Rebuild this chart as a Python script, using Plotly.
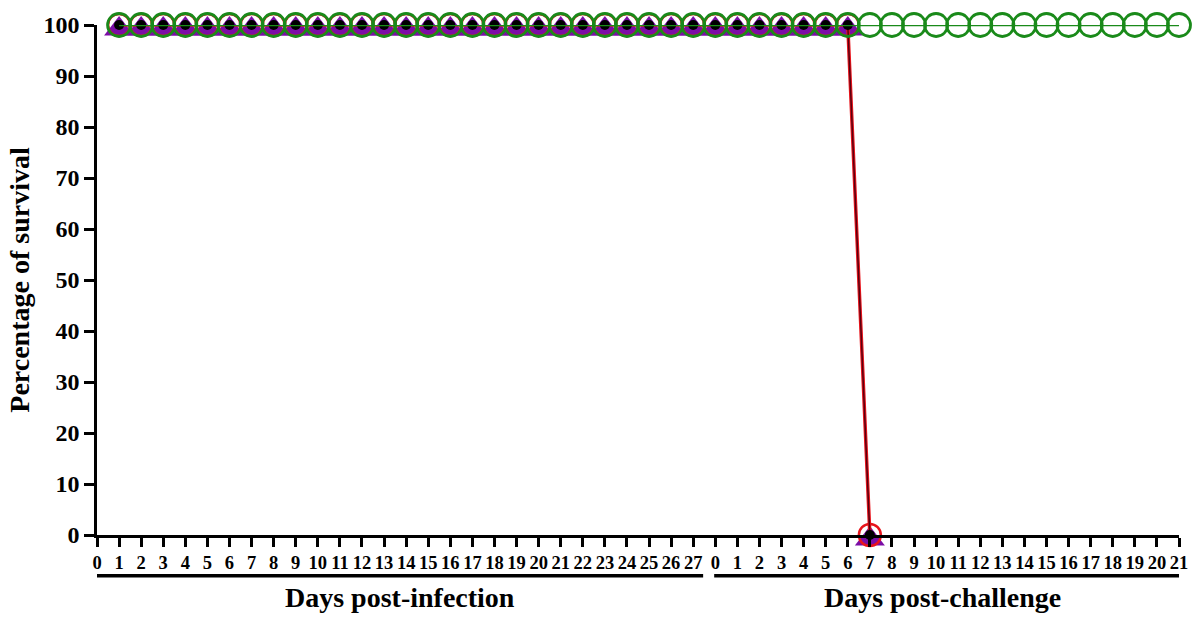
import plotly.graph_objects as go

# Tick labels: days post-infection (0-27) followed by days post-challenge (0-21)
infection_days = [0, 1, 2, 3, 4, 5, 6, 7, 8, 9, 10, 11, 12, 13, 14, 15, 16, 17, 18, 19, 20,
                  21, 22, 23, 24, 25, 26, 27]
challenge_days = [0, 1, 2, 3, 4, 5, 6, 7, 8, 9, 10, 11, 12, 13, 14, 15, 16, 17, 18, 19, 20, 21]
tick_labels = [str(d) for d in infection_days] + [str(d) for d in challenge_days]
tick_pos = list(range(len(tick_labels)))

# Survival data (x = position on the combined axis)
green_x = [1, 2, 3, 4, 5, 6, 7, 8, 9, 10, 11, 12, 13, 14, 15, 16, 17, 18, 19, 20, 21, 22, 23, 24,
           25, 26, 27, 28, 29, 30, 31, 32, 33, 34, 35, 36, 37, 38, 39, 40, 41, 42, 43, 44, 45,
           46, 47, 48, 49]
green_y = [100, 100, 100, 100, 100, 100, 100, 100, 100, 100, 100, 100, 100, 100, 100, 100, 100,
           100, 100, 100, 100, 100, 100, 100, 100, 100, 100, 100, 100, 100, 100, 100, 100, 100,
           100, 100, 100, 100, 100, 100, 100, 100, 100, 100, 100, 100, 100, 100, 100]

dead_x = [1, 2, 3, 4, 5, 6, 7, 8, 9, 10, 11, 12, 13, 14, 15, 16, 17, 18, 19, 20, 21, 22, 23, 24,
          25, 26, 27, 28, 29, 30, 31, 32, 33, 34, 35]
purple_y = [100, 100, 100, 100, 100, 100, 100, 100, 100, 100, 100, 100, 100, 100, 100, 100, 100,
            100, 100, 100, 100, 100, 100, 100, 100, 100, 100, 100, 100, 100, 100, 100, 100, 100, 0]
black_y = [100, 100, 100, 100, 100, 100, 100, 100, 100, 100, 100, 100, 100, 100, 100, 100, 100,
           100, 100, 100, 100, 100, 100, 100, 100, 100, 100, 100, 100, 100, 100, 100, 100, 100, 0]
red_y = [100, 100, 100, 100, 100, 100, 100, 100, 100, 100, 100, 100, 100, 100, 100, 100, 100,
         100, 100, 100, 100, 100, 100, 100, 100, 100, 100, 100, 100, 100, 100, 100, 100, 100, 0]

FONT = "Liberation Serif, Times New Roman, serif"

fig = go.Figure()
fig.add_trace(go.Scatter(x=dead_x, y=purple_y, mode="lines+markers",
                         line=dict(color="#7B0DA6", width=2),
                         marker=dict(symbol="triangle-up", size=26, color="#7B0DA6",
                                     standoff=4),
                         cliponaxis=False, showlegend=False))
fig.add_trace(go.Scatter(x=dead_x, y=red_y, mode="lines+markers",
                         line=dict(color="#E8141B", width=3.5),
                         marker=dict(symbol="circle-open", size=22, color="#E8141B",
                                     line=dict(width=2.5, color="#E8141B")),
                         cliponaxis=False, showlegend=False))
fig.add_trace(go.Scatter(x=dead_x, y=black_y, mode="lines+markers",
                         line=dict(color="#5A0010", width=1.5),
                         marker=dict(symbol="circle", size=10, color="black"),
                         cliponaxis=False, showlegend=False))
fig.add_trace(go.Scatter(x=green_x, y=green_y, mode="lines+markers",
                         line=dict(color="#1A8A1A", width=2.5),
                         marker=dict(symbol="circle-open", size=23, color="#1A8A1A",
                                     line=dict(width=2.8, color="#1A8A1A")),
                         cliponaxis=False, showlegend=False))

fig.update_layout(
    width=1200, height=620,
    margin=dict(l=97, r=18, t=20, b=85),
    paper_bgcolor="white", plot_bgcolor="white",
    font=dict(family=FONT, color="black"),
    xaxis=dict(range=[0, 49], tickmode="array", tickvals=tick_pos, ticktext=tick_labels,
               showgrid=False, zeroline=False, showline=True, linecolor="black", linewidth=2.5,
               ticks="outside", ticklen=9, tickwidth=2.5, tickcolor="black",
               tickfont=dict(family=FONT, size=18.5, color="black", weight="bold"),
               tickangle=0),
    yaxis=dict(range=[0, 100], tickmode="array", tickvals=[0, 10, 20, 30, 40, 50, 60, 70, 80, 90, 100],
               showgrid=False, zeroline=False, showline=True, linecolor="black", linewidth=2.5,
               ticks="outside", ticklen=10, tickwidth=2.5, tickcolor="black",
               tickfont=dict(family=FONT, size=24, color="black", weight="bold"),
               title=dict(text="Percentage of survival", standoff=6,
                          font=dict(family=FONT, size=28, color="black", weight="bold"))),
)

# Group brackets under the x axis
fig.add_shape(type="line", xref="x", yref="paper", x0=-0.35, x1=27.45, y0=-0.08, y1=-0.08,
              line=dict(color="black", width=3.5))
fig.add_shape(type="line", xref="x", yref="paper", x0=27.95, x1=49.2, y0=-0.08, y1=-0.08,
              line=dict(color="black", width=3.5))
fig.add_annotation(text="Days post-infection", xref="x", yref="paper", x=13.7, y=-0.122,
                   showarrow=False, yanchor="middle",
                   font=dict(family=FONT, size=28, color="black", weight="bold"))
fig.add_annotation(text="Days post-challenge", xref="x", yref="paper", x=38.3, y=-0.122,
                   showarrow=False, yanchor="middle",
                   font=dict(family=FONT, size=28, color="black", weight="bold"))

fig.write_html("out.html")
